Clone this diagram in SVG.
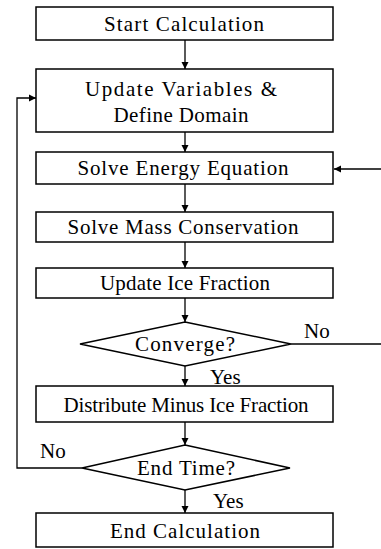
<svg xmlns="http://www.w3.org/2000/svg" width="381" height="549" viewBox="0 0 381 549">
<defs>
<marker id="ah" markerWidth="8" markerHeight="8" refX="7" refY="4" orient="auto" markerUnits="userSpaceOnUse">
<path d="M0,0.5 L7,4 L0,7.5 Z" fill="#000"/>
</marker>
<style>
.box{fill:#fff;stroke:#000;stroke-width:1.5}
.t{font-family:"Liberation Serif","Times New Roman",serif;font-size:21px;fill:#000;text-anchor:middle}
.l{font-family:"Liberation Serif","Times New Roman",serif;font-size:21px;fill:#000}
.c{fill:none;stroke:#000;stroke-width:1.3}
</style>
</defs>
<rect width="381" height="549" fill="#fff"/>
<g id="connectors">
<line class="c" x1="185" y1="40" x2="185" y2="69" marker-end="url(#ah)"/>
<line class="c" x1="185" y1="132" x2="185" y2="152" marker-end="url(#ah)"/>
<line class="c" x1="185" y1="184" x2="185" y2="212" marker-end="url(#ah)"/>
<line class="c" x1="185" y1="242" x2="185" y2="268" marker-end="url(#ah)"/>
<line class="c" x1="185" y1="298" x2="185" y2="322" marker-end="url(#ah)"/>
<line class="c" x1="185" y1="366" x2="185" y2="386" marker-end="url(#ah)"/>
<line class="c" x1="185" y1="422" x2="185" y2="445" marker-end="url(#ah)"/>
<line class="c" x1="185" y1="490" x2="185" y2="513" marker-end="url(#ah)"/>
<polyline class="c" points="82,468 17,468 17,98 36,98" marker-end="url(#ah)"/>
<line class="c" x1="291" y1="344" x2="381" y2="344"/>
<line class="c" x1="381" y1="169" x2="334" y2="169" marker-end="url(#ah)"/>
<text class="l" x="304" y="338">No</text>
<text class="l" x="210" y="384">Yes</text>
<text class="l" x="40" y="458">No</text>
<text class="l" x="213" y="508">Yes</text>
</g>
<g id="start">
<rect class="box" x="36" y="7" width="297" height="33"/>
<text class="t" x="184" y="31" textLength="160" lengthAdjust="spacing">Start Calculation</text>
</g>
<g id="update">
<rect class="box" x="36" y="69" width="297" height="63"/>
<text class="t" x="181" y="96" textLength="192" lengthAdjust="spacing">Update Variables &amp;</text>
<text class="t" x="181" y="122" textLength="135" lengthAdjust="spacing">Define Domain</text>
</g>
<g id="energy">
<rect class="box" x="36" y="152" width="297" height="32"/>
<text class="t" x="183" y="175" textLength="211" lengthAdjust="spacing">Solve Energy Equation</text>
</g>
<g id="mass">
<rect class="box" x="36" y="212" width="297" height="30"/>
<text class="t" x="183" y="234" textLength="231" lengthAdjust="spacing">Solve Mass Conservation</text>
</g>
<g id="ice">
<rect class="box" x="36" y="268" width="297" height="30"/>
<text class="t" x="185" y="290" textLength="170" lengthAdjust="spacing">Update Ice Fraction</text>
</g>
<g id="converge">
<polygon class="box" points="185,322 291,344 185,366 80,344"/>
<text class="t" x="185" y="351" textLength="100" lengthAdjust="spacing">Converge?</text>
</g>
<g id="distribute">
<rect class="box" x="36" y="386" width="297" height="36"/>
<text class="t" x="186" y="412" textLength="245" lengthAdjust="spacing">Distribute Minus Ice Fraction</text>
</g>
<g id="endtime">
<polygon class="box" points="185,445 290,468 185,490 82,468"/>
<text class="t" x="186" y="475" textLength="98" lengthAdjust="spacing">End Time?</text>
</g>
<g id="end">
<rect class="box" x="36" y="513" width="297" height="34"/>
<text class="t" x="185" y="538" textLength="150" lengthAdjust="spacing">End Calculation</text>
</g>
</svg>
